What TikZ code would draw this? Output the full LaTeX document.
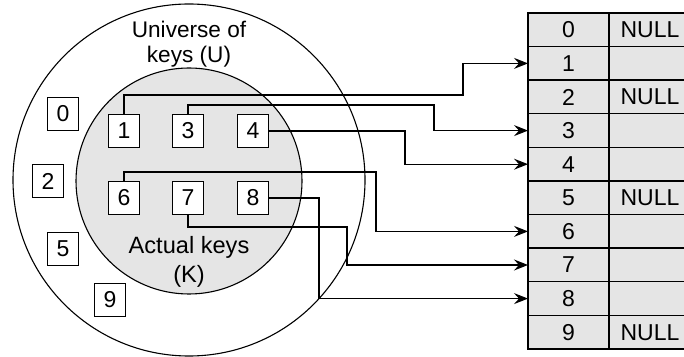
\documentclass[tikz,border=0pt]{standalone}
\usepackage{fontspec}
\setmainfont{Liberation Sans}
\usetikzlibrary{positioning, arrows.meta}

\begin{document}
\begin{tikzpicture}[
    x=0.5pt, y=-0.5pt,
    keybox/.style={draw, fill=white, line width=0.65pt, minimum width=15.5pt, minimum height=16.5pt, inner sep=0pt, font=\fontsize{11.5}{13}\selectfont},
    slotcell/.style={draw, fill=gray!20, line width=0.7pt, outer sep=0pt, minimum width=40.5pt, minimum height=16.8pt, inner sep=0pt, font=\fontsize{11.5}{13}\selectfont},
    ptrcell/.style={slotcell, minimum width=41pt},
    setlabel/.style={align=center, inner sep=0pt},
    arrow/.style={-{Stealth[length=7pt,width=5.5pt,inset=2.5pt]}, line width=0.55pt},
]
\useasboundingbox (0,0) rectangle (684,357);
\clip (0,0) rectangle (684,357);

% Universe and actual keys
\draw[line width=0.55pt] (189,180) circle[radius=88pt];
\draw[line width=0.55pt, fill=gray!20] (189,181) circle[radius=56.5pt];
\node[setlabel, font=\fontsize{11.3}{12.5}\selectfont] (univ) at (189,44) {Universe of\\keys (U)};
\node[setlabel, font=\fontsize{11.8}{14.5}\selectfont] (actual) at (189,262) {Actual keys\\(K)};

% Hash table
\foreach \i/\val in {0/NULL,1/,2/NULL,3/,4/,5/NULL,6/,7/,8/,9/NULL}{
  \node[slotcell] (s\i) at (568.5,{29.8+33.6*\i}) {\i};
  \node[ptrcell, right=0pt of s\i] (p\i) {\val};
}

% Keys
\foreach \k/\x/\y in {0/63/114, 2/48/181, 5/63/249, 9/110/300, 1/124/131, 3/188/131, 4/253/131, 6/124/198, 7/188/198, 8/253/198}
  \node[keybox] (b\k) at (\x,\y) {\k};

% Bend points
\coordinate (c1) at (463,95);
\coordinate (c3) at (434,105);
\coordinate (c4) at (405,131);
\coordinate (c6) at (376,172);
\coordinate (c7) at (347,227);
\coordinate (c8) at (319,198);

% Keys to slots
\draw[arrow] (b1.north) |- (c1) |- (s1.west);
\draw[arrow] (b3.north) |- (c3) |- (s3.west);
\draw[arrow] (b4.east) -- (b4.east -| c4) |- (s4.west);
\draw[arrow] (b6.north) |- (c6) |- (s6.west);
\draw[arrow] (b7.south) |- (c7) |- (s7.west);
\draw[arrow] (b8.east) -- (b8.east -| c8) |- (s8.west);

\end{tikzpicture}
\end{document}
